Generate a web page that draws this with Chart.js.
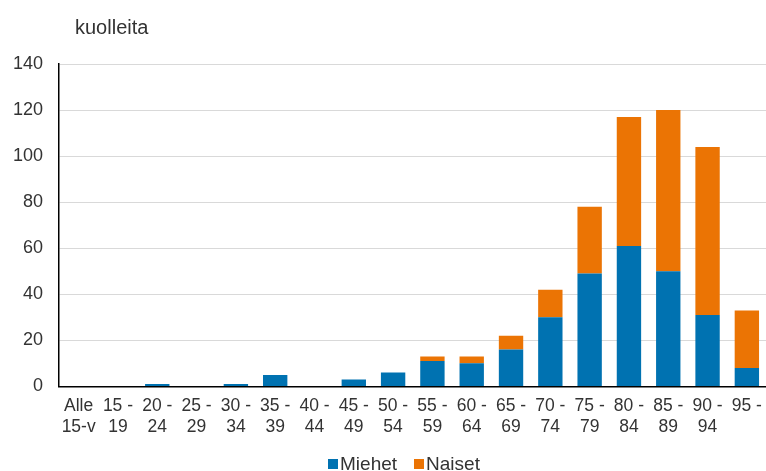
<!DOCTYPE html>
<html>
<head>
<meta charset="utf-8">
<script src="https://cdn.jsdelivr.net/npm/chart.js@4/dist/chart.umd.min.js"></script>
<style>
  html, body { margin: 0; padding: 0; background: #fff; overflow: hidden; }
  #wrap { position: relative; width: 766px; height: 471px; overflow: hidden; }
  #c { position: absolute; left: 0; top: 0; }
  #legend {
    position: absolute; left: 42px; width: 724px; top: 453px;
    display: flex; justify-content: center; gap: 17px;
    font-family: "Liberation Sans", Arial, sans-serif; font-size: 19px; color: #333;
    line-height: 22px;
  }
  #legend span.item { display: flex; align-items: center; }
  #legend span.box { display: inline-block; width: 10px; height: 10px; margin-right: 2px; }
</style>
</head>
<body>
<div id="wrap">
  <canvas id="c" width="772" height="471"></canvas>
  <div id="legend"></div>
</div>
<script>
// Age groups (two-line tick labels)
const ageGroups = [
  ['Alle', '15-v'], ['15 -', '19'], ['20 -', '24'], ['25 -', '29'], ['30 -', '34'],
  ['35 -', '39'], ['40 -', '44'], ['45 -', '49'], ['50 -', '54'], ['55 -', '59'],
  ['60 -', '64'], ['65 -', '69'], ['70 -', '74'], ['75 -', '79'], ['80 -', '84'],
  ['85 -', '89'], ['90 -', '94'], ['95 -', '']
];
// Deaths by sex
const miehet = [0, 0, 1, 0, 1, 5, 0, 3, 6, 11, 10, 16, 30, 49, 61, 50, 31, 8];
const naiset = [0, 0, 0, 0, 0, 0, 0, 0, 0, 2, 3, 6, 12, 29, 56, 70, 73, 25];
const yTicks = [0, 20, 40, 60, 80, 100, 120, 140];
const unitLabel = 'kuolleita';

const FONT = '"Liberation Sans", Arial, sans-serif';
const TEXT = '#333333';

const unitTitle = {
  id: 'unitTitle',
  afterDraw(chart) {
    const { ctx, chartArea } = chart;
    ctx.save();
    ctx.font = '20px ' + FONT;
    ctx.fillStyle = TEXT;
    ctx.textBaseline = 'middle';
    ctx.textAlign = 'left';
    ctx.fillText(unitLabel, chartArea.left + 16, chartArea.top - 36);
    ctx.restore();
  }
};

const chart = new Chart(document.getElementById('c'), {
  type: 'bar',
  data: {
    labels: ageGroups,
    datasets: [
      { label: 'Miehet', data: miehet, backgroundColor: '#0072b1' },
      { label: 'Naiset', data: naiset, backgroundColor: '#eb7404' }
    ]
  },
  options: {
    responsive: false,
    animation: false,
    layout: { padding: { top: 64, right: 2, bottom: 24, left: 0 } },
    datasets: { bar: { barPercentage: 0.62, categoryPercentage: 1.0 } },
    plugins: { legend: { display: false }, tooltip: { enabled: false } },
    scales: {
      x: {
        stacked: true,
        grid: { display: false, drawTicks: false },
        border: { display: true, color: '#000', width: 1.5 },
        ticks: { color: TEXT, font: { family: FONT, size: 17.5, lineHeight: 1.16 }, padding: 10, maxRotation: 0, autoSkip: false }
      },
      y: {
        stacked: true,
        min: 0, max: 140,
        afterBuildTicks(scale) { scale.ticks = yTicks.map(v => ({ value: v })); },
        afterFit(scale) { scale.width = 59; },
        grid: { color: '#d9d9d9', lineWidth: 1, drawTicks: false },
        border: { display: true, color: '#000', width: 1.5 },
        ticks: { color: TEXT, font: { family: FONT, size: 18 }, padding: 16 }
      }
    }
  },
  plugins: [unitTitle]
});

// Legend built from the datasets
const legend = document.getElementById('legend');
chart.data.datasets.forEach(ds => {
  const item = document.createElement('span');
  item.className = 'item';
  const box = document.createElement('span');
  box.className = 'box';
  box.style.background = ds.backgroundColor;
  item.appendChild(box);
  item.appendChild(document.createTextNode(ds.label));
  legend.appendChild(item);
});
</script>
</body>
</html>
